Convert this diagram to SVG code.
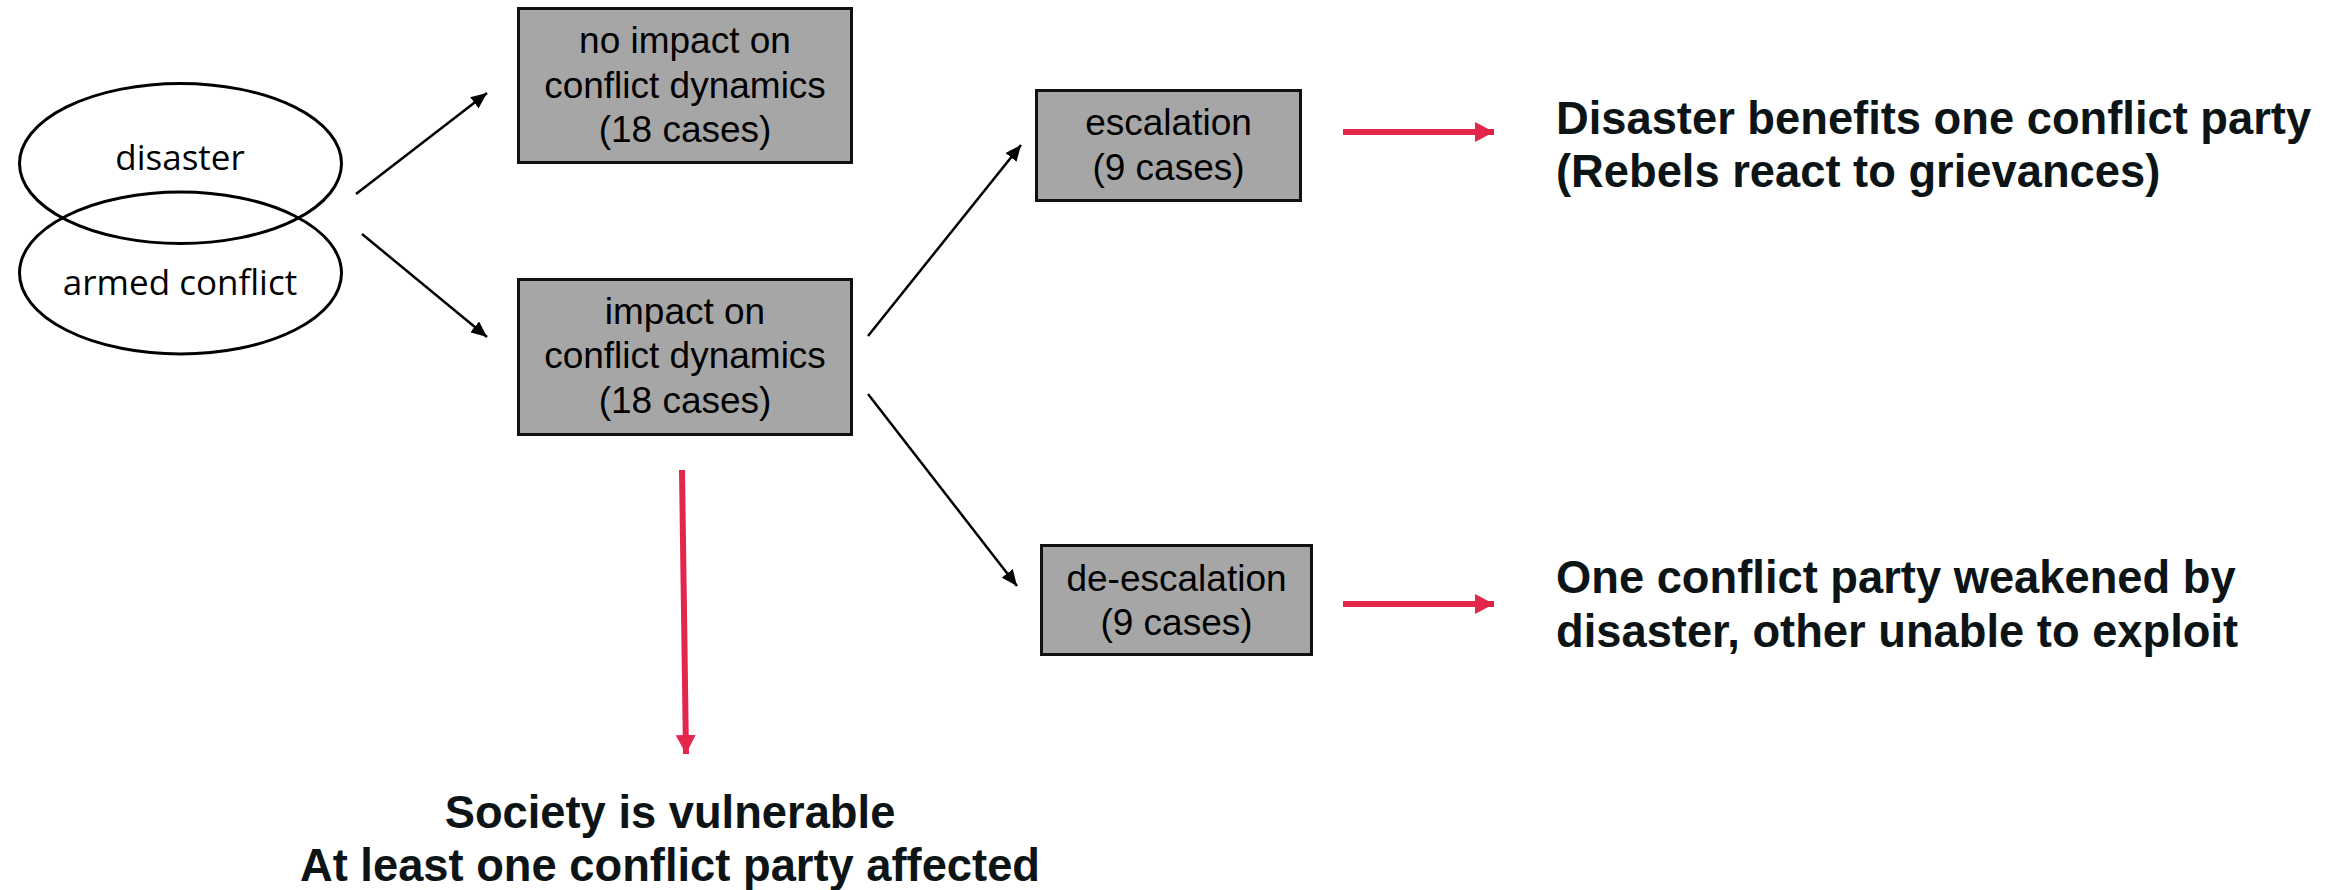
<svg xmlns="http://www.w3.org/2000/svg" width="2332" height="890" viewBox="0 0 2332 890">
<defs>
<style>
.box{fill:#a6a6a6;stroke:#111;stroke-width:3}
.ell{fill:none;stroke:#000;stroke-width:3}
.bt{font-family:"Liberation Sans",Arial,sans-serif;font-size:37px;fill:#000;text-anchor:middle}
.et{font-family:"Open Sans","Noto Sans",sans-serif;font-size:35px;fill:#000;text-anchor:middle}
.res{font-family:"Liberation Sans",Arial,sans-serif;font-size:45.3px;font-weight:bold;fill:#0d1416}
.blk{stroke:#000;stroke-width:2.5;fill:none;marker-end:url(#ah)}
.red{stroke:#e2274a;stroke-width:6;fill:none;marker-end:url(#rh)}
</style>
<marker id="ah" markerUnits="userSpaceOnUse" markerWidth="18" markerHeight="14" refX="16" refY="7" orient="auto">
<path d="M0,0 L16,7 L0,14 Z" fill="#000"/>
</marker>
<marker id="rh" markerUnits="userSpaceOnUse" markerWidth="20" markerHeight="22" refX="19" refY="11" orient="auto">
<path d="M0,1 L19,11 L0,21 Z" fill="#e2274a"/>
</marker>
</defs>
<rect width="2332" height="890" fill="#fff"/>
<g id="disaster">
<ellipse class="ell" cx="180.5" cy="163.5" rx="161" ry="80"/>
<text class="et" x="180" y="170">disaster</text>
</g>
<g id="armed-conflict">
<ellipse class="ell" cx="180.5" cy="273" rx="161" ry="81"/>
<text class="et" x="180" y="295">armed conflict</text>
</g>
<g id="no-impact">
<rect class="box" x="518.5" y="8.5" width="333" height="154"/>
<text class="bt" x="685" y="53">no impact on</text>
<text class="bt" x="685" y="98">conflict dynamics</text>
<text class="bt" x="685" y="142">(18 cases)</text>
</g>
<g id="impact">
<rect class="box" x="518.5" y="279.5" width="333" height="155"/>
<text class="bt" x="685" y="324">impact on</text>
<text class="bt" x="685" y="368">conflict dynamics</text>
<text class="bt" x="685" y="413">(18 cases)</text>
</g>
<g id="escalation">
<rect class="box" x="1036.5" y="90.5" width="264" height="110"/>
<text class="bt" x="1168.5" y="135">escalation</text>
<text class="bt" x="1168.5" y="180">(9 cases)</text>
</g>
<g id="de-escalation">
<rect class="box" x="1041.5" y="545.5" width="270" height="109"/>
<text class="bt" x="1176.5" y="591">de-escalation</text>
<text class="bt" x="1176.5" y="635">(9 cases)</text>
</g>
<g id="outcome-escalation">
<text class="res" x="1556" y="134">Disaster benefits one conflict party</text>
<text class="res" x="1556" y="187">(Rebels react to grievances)</text>
</g>
<g id="outcome-de-escalation">
<text class="res" x="1556" y="593">One conflict party weakened by</text>
<text class="res" x="1556" y="647">disaster, other unable to exploit</text>
</g>
<g id="outcome-vulnerable">
<text class="res" x="670" y="828" text-anchor="middle">Society is vulnerable</text>
<text class="res" x="670" y="881" text-anchor="middle">At least one conflict party affected</text>
</g>
<g id="connectors">
<line class="blk" x1="356" y1="194" x2="487" y2="93"/>
<line class="blk" x1="362" y1="234" x2="487" y2="337"/>
<line class="blk" x1="868" y1="336" x2="1021" y2="145"/>
<line class="blk" x1="868" y1="394" x2="1017" y2="586"/>
<line class="red" x1="1343" y1="132" x2="1494" y2="132"/>
<line class="red" x1="1343" y1="604" x2="1494" y2="604"/>
<line class="red" x1="682" y1="470" x2="686" y2="754"/>
</g>
</svg>
